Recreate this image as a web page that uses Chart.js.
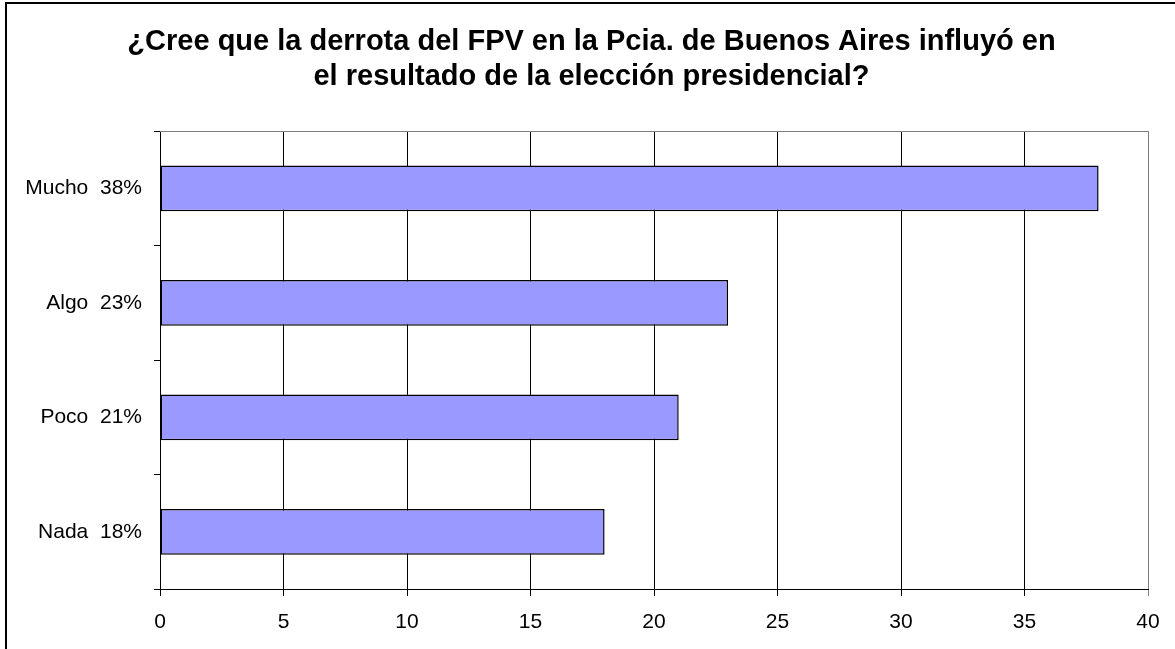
<!DOCTYPE html>
<html><head><meta charset="utf-8">
<script src="https://cdn.jsdelivr.net/npm/chart.js@4"></script>
<style>html,body{margin:0;padding:0;background:#fff}#wrap{position:relative;width:1175px;height:649px}</style>
</head><body><div id="wrap"><canvas id="c" width="1175" height="649"></canvas></div>
<script>
const titleLines = ['¿Cree que la derrota del FPV en la Pcia. de Buenos Aires influyó en', 'el resultado de la elección presidencial?'];
const categories = ['Mucho  38%', 'Algo  23%', 'Poco  21%', 'Nada  18%'];
const values = [38, 23, 21, 18];
const xMin = 0, xMax = 40, xStep = 5;

const FONT = '"Liberation Sans", Arial, sans-serif';

const frame = {
  id: 'frame',
  beforeDraw(chart) {
    const c = chart.ctx;
    c.save();
    c.fillStyle = '#fff';
    c.fillRect(0, 0, chart.width, chart.height);
    c.fillStyle = '#000';
    c.fillRect(5, 2, 2, chart.height);
    c.fillRect(5, 2, chart.width, 2);
    c.restore();
  },
  afterDatasetsDraw(chart) {
    const a = chart.chartArea, c = chart.ctx;
    c.save();
    c.strokeStyle = '#808080';
    c.lineWidth = 1;
    c.beginPath();
    c.moveTo(a.left, Math.round(a.top) + 0.5);
    c.lineTo(a.right + 1, Math.round(a.top) + 0.5);
    c.stroke();
    c.restore();
  }
};

new Chart(document.getElementById('c'), {
  type: 'bar',
  data: {
    labels: categories,
    datasets: [{
      data: values,
      xAxisID: 'x',
      yAxisID: 'y',
      backgroundColor: '#9999FF',
      borderColor: '#000',
      borderWidth: 1.5,
      borderSkipped: false,
      barPercentage: 0.4,
      categoryPercentage: 1
    }]
  },
  options: {
    indexAxis: 'y',
    responsive: false,
    animation: false,
    devicePixelRatio: 1,
    layout: { padding: { left: 8, right: 0, top: 0, bottom: 0 } },
    plugins: {
      legend: { display: false },
      tooltip: { enabled: false },
      title: {
        display: true,
        text: titleLines,
        color: '#000',
        font: { family: FONT, size: 29, weight: 'bold', lineHeight: 1.21 },
        padding: { top: 24, bottom: 37 }
      }
    },
    scales: {
      x: {
        type: 'linear',
        position: 'bottom',
        min: xMin, max: xMax,
        afterFit(s) { s.height = 60; },
        ticks: { stepSize: xStep, color: '#000', padding: 14, font: { family: FONT, size: 21 } },
        grid: {
          color: (ctx) => (ctx.tick && ctx.tick.value === xMax) ? '#808080' : '#000',
          lineWidth: 1,
          tickLength: 7,
          drawTicks: true
        },
        border: { display: true, color: '#000', width: 1 }
      },
      y: {
        type: 'category',
        position: 'left',
        afterFit(s) { s.width = 152; },
        ticks: { color: '#000', padding: 12, font: { family: FONT, size: 21 } },
        grid: { drawOnChartArea: false, drawTicks: true, tickLength: 6, color: '#000', offset: true },
        border: { display: true, color: '#000', width: 1 }
      },
      pad: {
        type: 'linear',
        axis: 'y',
        position: 'right',
        afterFit(s) { s.width = 27; },
        ticks: { display: false },
        grid: { display: false },
        border: { display: false }
      }
    }
  },
  plugins: [frame]
});
</script>
</body></html>
